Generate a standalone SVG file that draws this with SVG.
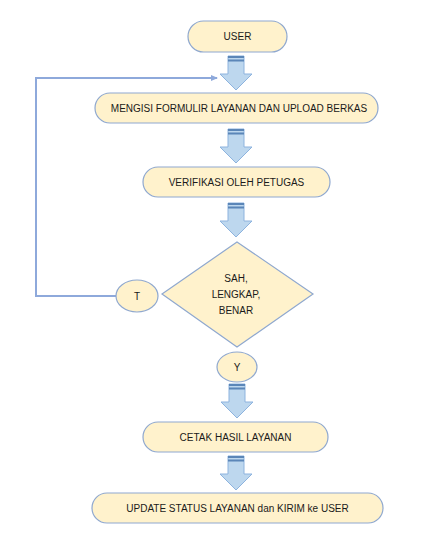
<svg xmlns="http://www.w3.org/2000/svg" width="442" height="553" viewBox="0 0 442 553">
<defs>
<style>
.n{fill:#FFF2CC;stroke:#8FA8CF;stroke-width:1.2}
.t{font-family:"Liberation Sans",Arial,sans-serif;font-size:10px;fill:#1a1a1a;text-anchor:middle}
.ba{fill:#BDD7EE;stroke:#8DB3DE;stroke-width:1}
.st{fill:#5B86B8}
.ln{fill:none;stroke:#8EA9DB;stroke-width:2}
</style>
<marker id="ah" markerWidth="8" markerHeight="8" refX="6" refY="4" orient="auto" markerUnits="userSpaceOnUse">
<path d="M0,1 L7,4 L0,7 Z" fill="#8EA9DB"/>
</marker>
<g id="blk">
<path class="ba" d="M-8,0 H8 V18 H16 L0,34 L-16,18 H-8 Z"/>
<rect class="st" x="-8" y="0" width="16" height="2"/>
<rect class="st" x="-8" y="3.5" width="16" height="2"/>
</g>
</defs>
<rect width="442" height="553" fill="#fff"/>
<g id="connectors">
<use href="#blk" x="236" y="56"/>
<use href="#blk" x="236" y="129"/>
<use href="#blk" x="236" y="203"/>
<use href="#blk" x="237" y="384"/>
<use href="#blk" x="236" y="456"/>
<path class="ln" d="M116,296 H36 V78 H217" marker-end="url(#ah)"/>
</g>
<g id="user">
<rect class="n" x="188" y="21" width="99" height="31" rx="15.5"/>
<text class="t" x="237.5" y="40">USER</text>
</g>
<g id="mengisi">
<rect class="n" x="95" y="93" width="283" height="30" rx="15"/>
<text class="t" x="239" y="111.5">MENGISI FORMULIR LAYANAN DAN UPLOAD BERKAS</text>
</g>
<g id="verifikasi">
<rect class="n" x="143" y="167" width="187" height="30" rx="15"/>
<text class="t" x="236.5" y="185.5">VERIFIKASI OLEH PETUGAS</text>
</g>
<g id="decision">
<path class="n" d="M237,242 L313,294 L237,347 L162,294 Z"/>
<text class="t" x="236" y="282">SAH,</text>
<text class="t" x="236" y="298">LENGKAP,</text>
<text class="t" x="236" y="314">BENAR</text>
</g>
<g id="t">
<ellipse class="n" cx="137" cy="296" rx="21" ry="16"/>
<text class="t" x="137" y="300">T</text>
</g>
<g id="y">
<ellipse class="n" cx="237" cy="367" rx="20" ry="15"/>
<text class="t" x="237" y="371">Y</text>
</g>
<g id="cetak">
<rect class="n" x="143" y="422" width="185" height="30" rx="15"/>
<text class="t" x="235.5" y="440.5">CETAK HASIL LAYANAN</text>
</g>
<g id="update">
<rect class="n" x="92" y="493" width="291" height="30" rx="15"/>
<text class="t" x="237.5" y="511.5">UPDATE STATUS LAYANAN dan KIRIM ke USER</text>
</g>
</svg>
